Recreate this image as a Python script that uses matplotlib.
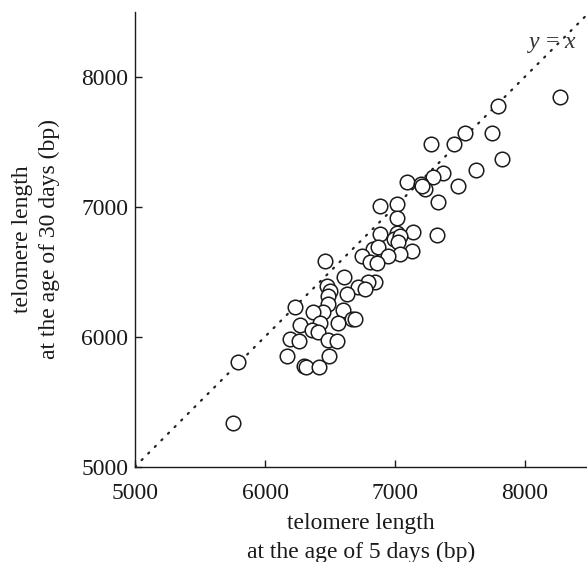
import matplotlib as mpl
import matplotlib.pyplot as plt

mpl.rcParams.update({
    "font.family": ["Liberation Serif", "DejaVu Serif"],
    "mathtext.fontset": "custom",
    "mathtext.it": "Liberation Serif:italic",
    "mathtext.rm": "Liberation Serif",
})

# telomere length (bp) at 5 days vs 30 days
tl_5days = [
    8269, 7795, 7538, 7744, 7454, 7274, 7821, 7623, 7372, 7290,
    7090, 7197, 7231, 7210, 7487, 7333, 6885, 7018, 7013, 7141,
    7326, 6885, 7013, 6990, 7038, 7026, 6828, 6872, 7128, 7038,
    6949, 6744, 6808, 6859, 6462, 6610, 6846, 6795, 6713, 6769,
    6474, 6500, 6487, 6628, 6487, 6449, 6231, 6367, 6603, 6667,
    6692, 6564, 6269, 6423, 6359, 6410, 6192, 6262, 6487, 6551,
    6172, 6492, 6300, 6313, 6415, 5795, 5754,
]
tl_30days = [
    7846, 7774, 7564, 7564, 7482, 7482, 7364, 7285, 7256, 7231,
    7192, 7177, 7138, 7160, 7162, 7038, 7005, 7021, 6910, 6808,
    6782, 6787, 6795, 6751, 6772, 6728, 6672, 6692, 6662, 6636,
    6621, 6621, 6577, 6564, 6585, 6456, 6423, 6423, 6379, 6364,
    6390, 6354, 6313, 6328, 6251, 6192, 6231, 6192, 6205, 6133,
    6133, 6108, 6090, 6103, 6051, 6033, 5979, 5969, 5974, 5969,
    5854, 5851, 5774, 5769, 5769, 5808, 5333,
]
ticks = [5000, 6000, 7000, 8000]
identity = [5000, 8500]

fig = plt.figure(figsize=(5.87, 5.62), dpi=100)
ax = fig.add_axes([0.23, 0.1696, 0.77, 0.8096])

# dotted y = x reference line
ax.plot(identity, identity, color="#222222", linewidth=1.6,
        linestyle=(0, (0.6, 3.6)), dash_capstyle="round", zorder=1)
ax.scatter(tl_5days, tl_30days, s=110, facecolors="white",
           edgecolors="#1a1a1a", linewidths=1.1, zorder=2)

ax.text(8205, 8244, r"$y$ = $x$", fontsize=17, ha="center", va="center",
        color="#333333")

ax.set_xlim(5000, 8477)
ax.set_ylim(5000, 8500)
ax.set_xticks(ticks)
ax.set_yticks(ticks)
ax.tick_params(direction="in", length=5, width=1.0, labelsize=17,
               colors="#1a1a1a")
ax.tick_params(axis="x", pad=12)
ax.tick_params(axis="y", pad=5)
ax.spines["top"].set_visible(False)
ax.spines["right"].set_visible(False)
for s in ("left", "bottom"):
    ax.spines[s].set_linewidth(1.0)
    ax.spines[s].set_color("#1a1a1a")

ax.set_xlabel("telomere length\nat the age of 5 days (bp)", fontsize=17,
              linespacing=1.5, labelpad=6, color="#1a1a1a")
ax.set_ylabel("telomere length\nat the age of 30 days (bp)", fontsize=17,
              linespacing=1.35, labelpad=15, color="#1a1a1a")

fig.savefig("out.png", dpi=100)
